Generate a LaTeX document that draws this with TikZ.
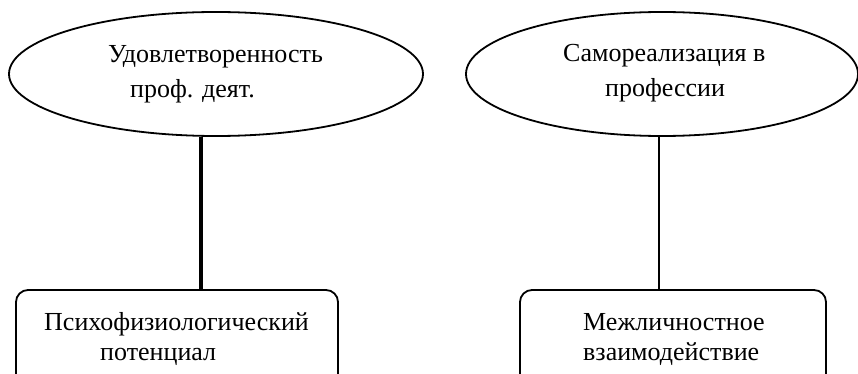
\documentclass[tikz,border=0pt]{standalone}
\usepackage{fontspec}
\setmainfont{Liberation Serif}
\usetikzlibrary{shapes.geometric}
\begin{document}
\begin{tikzpicture}[x=1pt,y=-1pt,
  ell/.style={draw,line width=1.8pt,ellipse,inner sep=0pt},
  boxst/.style={draw,line width=1.8pt,rounded corners=12pt},
  lbl/.style={font=\fontsize{26}{30}\selectfont,inner sep=0pt,anchor=base west}]
\useasboundingbox (0,0) rectangle (858,374);
\clip (0,0) rectangle (858,374);
\node[ell,minimum width=414pt,minimum height=124pt] (e1) at (216,74) {};
\node[ell,minimum width=392pt,minimum height=124pt] (e2) at (662,74) {};
\node[boxst,minimum width=322pt,minimum height=100pt] (b1) at (177,340) {};
\node[boxst,minimum width=306pt,minimum height=100pt] (b2) at (673,340) {};
\node[lbl] (t1) at (108,63) {Удовлетворенность};
\node[lbl] (t2) at (130,98) {проф. деят.};
\node[lbl] (t3) at (563,62) {Самореализация в};
\node[lbl] (t4) at (605,97) {профессии};
\node[lbl] (t5) at (44,330) {Психофизиологический};
\node[lbl] (t6) at (100,360) {потенциал};
\node[lbl] (t7) at (583,330) {Межличностное};
\node[lbl] (t8) at (583,360) {взаимодействие};
\draw[line width=4.5pt] ([xshift=-15pt]e1.south) -- ([xshift=24pt]b1.north);
\draw[line width=1.8pt] ([xshift=-3pt]e2.south) -- ([xshift=-14pt]b2.north);
\end{tikzpicture}
\end{document}
